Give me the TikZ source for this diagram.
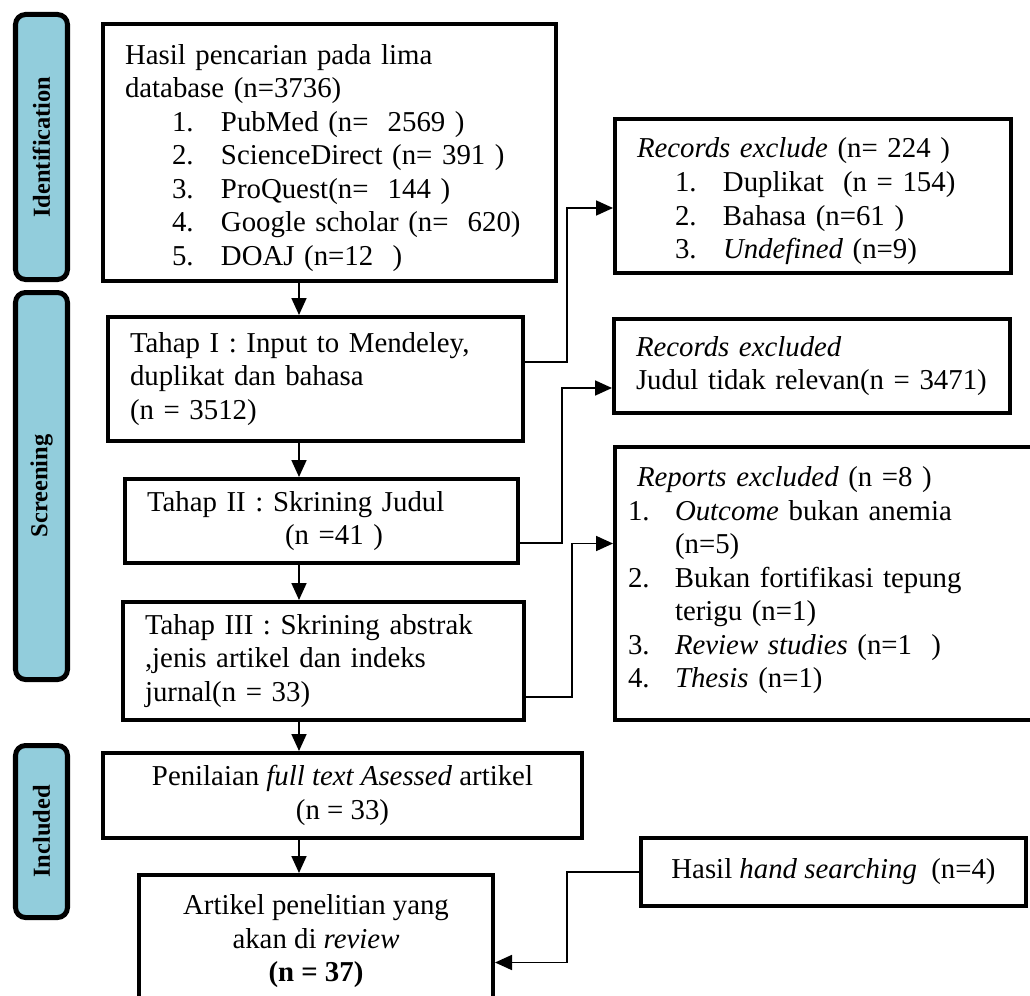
\documentclass[tikz,border=0pt]{standalone}
\usepackage{fontspec}
\setmainfont{Liberation Serif}
\usetikzlibrary{arrows.meta,positioning}
\definecolor{PrismaBiru}{RGB}{146,205,220}
\tikzset{
  kotak/.style={draw=black, line width=0.08cm, align=left, inner xsep=0.44cm, inner ysep=2pt,
                font=\fontsize{16.4}{19.1}\selectfont},
  kotaktengah/.style={kotak, align=center, inner xsep=2pt},
  fase/.style={draw=black, fill=PrismaBiru, line width=0.1cm, rounded corners=0.2cm,
               minimum width=1.04cm, inner sep=0pt, font=\fontsize{13.9}{16}\selectfont\bfseries},
  panah/.style={-{Triangle[length=0.34cm,width=0.3cm]}, line width=1pt},
}

\begin{document}
\begin{tikzpicture}
  \useasboundingbox (0,0) rectangle (20.6,-19.92);

  % Label fase
  \node[fase, minimum height=5.3cm, anchor=north west] (identifikasi) at (0.26,-0.24)
    {\rotatebox{90}{Identification}};
  \node[fase, minimum height=7.74cm, below=0.16cm of identifikasi] (skrining)
    {\rotatebox{90}{Screening}};
  \node[fase, minimum height=3.44cm, below=1.22cm of skrining] (inklusi)
    {\rotatebox{90}{Included}};

  % Kolom utama
  \node[kotak, text width=8.18cm, minimum height=5.14cm, anchor=north west] (hasil) at (2.02,-0.44)
    {\rule{0pt}{17.5pt}Hasil pencarian pada lima\\
     database (n=3736)\\
     \hspace*{0.94cm}\makebox[0.98cm][l]{1.}PubMed (n=\ \ 2569 )\\
     \hspace*{0.94cm}\makebox[0.98cm][l]{2.}ScienceDirect (n= 391 )\\
     \hspace*{0.94cm}\makebox[0.98cm][l]{3.}ProQuest(n=\ \ 144 )\\
     \hspace*{0.94cm}\makebox[0.98cm][l]{4.}Google scholar (n=\ \ 620)\\
     \hspace*{0.94cm}\makebox[0.98cm][l]{5.}DOAJ (n=12\ \ )};
  \node[kotak, text width=7.42cm, minimum height=2.48cm, below=0.64cm of hasil.south west,
        anchor=north west, xshift=0.1cm] (tahap1)
    {Tahap I : Input to Mendeley,\\duplikat dan bahasa\\(n = 3512)};
  \node[kotak, text width=6.98cm, minimum height=1.68cm, below=0.68cm of tahap1.south west,
        anchor=north west, xshift=0.34cm] (tahap2)
    {Tahap II : Skrining Judul\\\hspace*{2.76cm}(n =41 )};
  \node[kotak, text width=7.14cm, minimum height=2.36cm, below=0.7cm of tahap2.south west,
        anchor=north west, xshift=-0.04cm] (tahap3)
    {Tahap III : Skrining abstrak\\,jenis artikel dan indeks\\jurnal(n = 33)};
  \node[kotaktengah, minimum width=9.58cm, minimum height=1.7cm, below=0.58cm of tahap3.south west,
        anchor=north west, xshift=-0.4cm] (penilaian)
    {Penilaian \textit{full text Asessed} artikel\\(n = 33)};
  \node[kotaktengah, minimum width=7.08cm, minimum height=2.66cm, below=0.66cm of penilaian.south west,
        anchor=north west, xshift=0.72cm] (artikel)
    {Artikel penelitian yang\\akan di \textit{review}\\\textbf{(n = 37)}};

  % Kolom eksklusi
  \node[kotak, text width=7.04cm, minimum height=3.08cm, right=1.1cm of hasil.north east,
        anchor=north west, yshift=-1.9cm] (eksklusi1)
    {\rule{0pt}{17.5pt}\textit{Records exclude} (n= 224 )\\
     \hspace*{0.76cm}\makebox[0.96cm][l]{1.}Duplikat\ \ (n = 154)\\
     \hspace*{0.76cm}\makebox[0.96cm][l]{2.}Bahasa (n=61 )\\
     \hspace*{0.76cm}\makebox[0.96cm][l]{3.}\textit{Undefined} (n=9)};
  \node[kotak, text width=7.04cm, minimum height=1.88cm, below=0.84cm of eksklusi1.south west,
        anchor=north west, xshift=-0.02cm] (eksklusi2)
    {\textit{Records excluded}\\\mbox{Judul tidak relevan(n = 3471)}};
  \node[kotak, text width=8.04cm, inner xsep=0.26cm, minimum height=5.46cm,
        below=0.6cm of eksklusi2.south west, anchor=north west, xshift=0.02cm] (eksklusi3)
    {\hspace*{0.18cm}\textit{Reports excluded} (n =8 )\\
     \makebox[0.94cm][l]{1.}\textit{Outcome} bukan anemia\\
     \hspace*{0.94cm}(n=5)\\
     \makebox[0.94cm][l]{2.}Bukan fortifikasi tepung\\
     \hspace*{0.94cm}terigu (n=1)\\
     \makebox[0.94cm][l]{3.}\textit{Review studies} (n=1\ \ )\\
     \makebox[0.94cm][l]{4.}\textit{Thesis} (n=1)\\[-12pt]\mbox{}};
  \node[kotaktengah, minimum width=7.7cm, minimum height=1.36cm, right=2.88cm of artikel.north east,
        anchor=north west, yshift=0.74cm] (tangan)
    {Hasil \textit{hand searching}\ \ (n=4)};

  % Panah
  \coordinate (poros) at ([xshift=-0.34cm]artikel.north);
  \draw[panah] (hasil.south -| poros) -- (tahap1.north -| poros);
  \draw[panah] (tahap1.south -| poros) -- (tahap2.north -| poros);
  \draw[panah] (tahap2.south -| poros) -- (tahap3.north -| poros);
  \draw[panah] (tahap3.south -| poros) -- (penilaian.north -| poros);
  \draw[panah] (penilaian.south -| poros) -- (artikel.north -| poros);
  \draw[panah] ([yshift=0.34cm]tahap1.east) -- ++(0.84cm,0) |- ([yshift=-0.24cm]eksklusi1.west);
  \draw[panah] ([yshift=-0.44cm]tahap2.east) -- ++(0.84cm,0) |- ([yshift=-0.44cm]eksklusi2.west);
  \draw[panah] ([yshift=-0.72cm]tahap3.east) -- ++(0.92cm,0) |- ([yshift=0.8cm]eksklusi3.west);
  \draw[panah] (tangan.west) -- ++(-1.44cm,0) |- ([yshift=-0.42cm]artikel.east);
\end{tikzpicture}
\end{document}
